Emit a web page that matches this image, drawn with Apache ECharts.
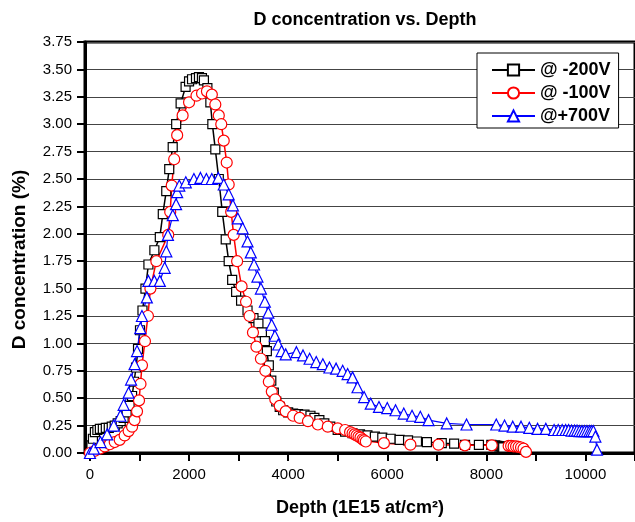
<!DOCTYPE html>
<html>
<head>
<meta charset="utf-8">
<script src="https://cdn.jsdelivr.net/npm/echarts@6/dist/echarts.min.js"></script>
<style>
html,body{margin:0;padding:0;background:#fff;}
#chart{width:635px;height:522px;}
</style>
</head>
<body>
<div id="chart"></div>
<script>
// ---- data ----
const seriesNames = ['@ -200V', '@ -100V', '@+700V'];

const depthM200 = [0, 30, 60, 100, 150, 200, 260, 320, 380, 440, 500, 560, 620, 680, 740, 800, 850, 890, 930, 970, 1010, 1060, 1120, 1180, 1300, 1410, 1470, 1540, 1600, 1670, 1740, 1830, 1930, 2000, 2060, 2140, 2200, 2260, 2300, 2370, 2430, 2470, 2530, 2600, 2670, 2740, 2800, 2870, 2950, 3050, 3180, 3300, 3400, 3470, 3530, 3570, 3610, 3660, 3710, 3760, 3830, 3900, 4000, 4100, 4200, 4330, 4450, 4530, 4630, 4730, 4850, 5000, 5150, 5300, 5450, 5600, 5750, 5900, 6070, 6250, 6420, 6600, 6800, 7100, 7350, 7570, 7850, 8100, 8180, 8220, 8260, 8290, 8320, 8340];
const concM200 = [0, 0.07, 0.13, 0.19, 0.21, 0.22, 0.22, 0.23, 0.23, 0.24, 0.25, 0.27, 0.29, 0.32, 0.37, 0.43, 0.52, 0.65, 0.78, 0.95, 1.12, 1.30, 1.50, 1.72, 1.85, 1.97, 2.18, 2.39, 2.59, 2.79, 3.00, 3.19, 3.34, 3.39, 3.41, 3.42, 3.43, 3.42, 3.40, 3.33, 3.20, 3.00, 2.77, 2.50, 2.20, 1.95, 1.75, 1.58, 1.47, 1.39, 1.30, 1.23, 1.18, 1.10, 1.02, 0.93, 0.80, 0.66, 0.55, 0.47, 0.42, 0.39, 0.37, 0.36, 0.355, 0.35, 0.34, 0.32, 0.30, 0.27, 0.24, 0.21, 0.195, 0.18, 0.17, 0.16, 0.15, 0.14, 0.13, 0.12, 0.115, 0.105, 0.10, 0.09, 0.085, 0.075, 0.075, 0.075, 0.07, 0.065, 0.06, 0.06, 0.055, 0.05];

const depthM100 = [0, 100, 200, 300, 400, 500, 600, 700, 780, 850, 900, 950, 990, 1020, 1050, 1110, 1170, 1220, 1340, 1580, 1620, 1650, 1700, 1760, 1870, 2000, 2150, 2262, 2361, 2460, 2530, 2600, 2650, 2700, 2760, 2800, 2850, 2900, 2970, 3060, 3150, 3220, 3290, 3360, 3450, 3540, 3610, 3670, 3740, 3830, 3950, 4100, 4233, 4400, 4600, 4800, 5000, 5150, 5250, 5300, 5340, 5380, 5420, 5460, 5500, 5530, 5567, 5933, 6467, 7033, 7567, 8110, 8450, 8500, 8550, 8600, 8650, 8700, 8750, 8800];
const concM100 = [0, 0.02, 0.04, 0.06, 0.08, 0.10, 0.12, 0.16, 0.20, 0.24, 0.30, 0.38, 0.48, 0.63, 0.80, 1.02, 1.25, 1.50, 1.75, 1.99, 2.20, 2.44, 2.68, 2.90, 3.08, 3.20, 3.26, 3.28, 3.30, 3.27, 3.18, 3.08, 3.00, 2.85, 2.65, 2.45, 2.20, 1.99, 1.75, 1.52, 1.38, 1.25, 1.10, 0.97, 0.86, 0.75, 0.65, 0.56, 0.49, 0.43, 0.38, 0.34, 0.32, 0.29, 0.26, 0.24, 0.225, 0.21, 0.19, 0.18, 0.17, 0.16, 0.15, 0.14, 0.125, 0.115, 0.105, 0.09, 0.076, 0.076, 0.07, 0.07, 0.065, 0.065, 0.06, 0.06, 0.055, 0.05, 0.04, 0.01];

const depthP700 = [0, 80, 213, 347, 480, 613, 680, 780, 830, 900, 950, 1016, 1049, 1148, 1180, 1300, 1410, 1508, 1541, 1574, 1672, 1738, 1760, 1803, 1934, 2098, 2230, 2350, 2459, 2590, 2700, 2800, 2885, 2984, 3082, 3180, 3246, 3311, 3380, 3450, 3530, 3600, 3667, 3733, 3800, 3867, 3950, 4167, 4300, 4433, 4567, 4700, 4833, 4967, 5100, 5200, 5300, 5400, 5533, 5667, 5833, 6000, 6167, 6333, 6500, 6667, 6833, 7200, 7600, 8200, 8367, 8533, 8700, 8867, 9033, 9200, 9367, 9450, 9530, 9600, 9660, 9720, 9780, 9830, 9880, 9930, 9980, 10030, 10080, 10120, 10160, 10200, 10233];
const concP700 = [0, 0.04, 0.10, 0.17, 0.25, 0.34, 0.44, 0.55, 0.67, 0.81, 0.93, 1.14, 1.25, 1.42, 1.57, 1.57, 1.57, 1.69, 1.84, 1.99, 2.17, 2.27, 2.38, 2.44, 2.47, 2.50, 2.51, 2.50, 2.50, 2.51, 2.45, 2.36, 2.26, 2.14, 2.05, 1.93, 1.83, 1.72, 1.61, 1.50, 1.38, 1.28, 1.17, 1.07, 0.99, 0.93, 0.90, 0.92, 0.89, 0.86, 0.83, 0.81, 0.78, 0.77, 0.75, 0.72, 0.69, 0.60, 0.51, 0.45, 0.42, 0.41, 0.39, 0.36, 0.34, 0.33, 0.30, 0.27, 0.26, 0.26, 0.25, 0.24, 0.24, 0.23, 0.22, 0.22, 0.21, 0.21, 0.21, 0.21, 0.21, 0.205, 0.205, 0.205, 0.20, 0.20, 0.20, 0.20, 0.20, 0.20, 0.20, 0.15, 0.03];

const xTickValues = [0, 1000, 2000, 3000, 4000, 5000, 6000, 7000, 8000, 9000, 10000, 11000];
const xLabelValues = [0, 2000, 4000, 6000, 8000, 10000];

const zip = (xs, ys) => xs.map((x, i) => [x, ys[i]]);

const FONT = 'Liberation Sans, Arial, sans-serif';
const chart = echarts.init(document.getElementById('chart'), null, {renderer: 'canvas'});

function lineSeries(name, xs, ys, symbol, size, color, width) {
  return {
    name: name,
    type: 'line',
    data: zip(xs, ys),
    symbol: symbol,
    symbolSize: size,
    showAllSymbol: true,
    clip: false,
    animation: false,
    lineStyle: {color: color, width: width},
    itemStyle: {color: '#fff', borderColor: color, borderWidth: 1.2},
    emphasis: {disabled: true}
  };
}

chart.setOption({
  animation: false,
  backgroundColor: '#fff',
  title: {
    text: 'D concentration vs. Depth',
    left: 360,
    top: 6,
    textAlign: 'center',
    textStyle: {fontFamily: FONT, fontWeight: 'bold', fontSize: 18, color: '#000'}
  },
  legend: {
    orient: 'vertical',
    left: 477,
    top: 53,
    itemWidth: 43,
    itemHeight: 14,
    itemGap: 5,
    padding: [8, 8, 3, 14],
    backgroundColor: '#fff',
    borderColor: '#000',
    borderWidth: 1,
    textStyle: {fontFamily: FONT, fontWeight: 'bold', fontSize: 18, color: '#000'},
    data: seriesNames
  },
  grid: {
    left: 85, top: 42, width: 557, height: 415,
    show: true, borderColor: '#000', borderWidth: 3, backgroundColor: 'transparent'
  },
  xAxis: {
    type: 'value',
    min: -100, max: 11000,
    name: 'Depth (1E15 at/cm²)',
    nameLocation: 'middle',
    nameGap: 46,
    nameTextStyle: {fontFamily: FONT, fontWeight: 'bold', fontSize: 18, color: '#000'},
    axisLine: {onZero: false, lineStyle: {color: '#000', width: 3}},
    axisTick: {show: true, customValues: xTickValues, length: 8, lineStyle: {color: '#000', width: 2}},
    axisLabel: {customValues: xLabelValues, fontFamily: FONT, fontSize: 15, color: '#000', margin: 14, formatter: v => String(v)},
    splitLine: {show: false}
  },
  yAxis: {
    type: 'value',
    min: 0, max: 3.75, interval: 0.25,
    name: 'D concentration (%)',
    nameLocation: 'middle',
    nameGap: 56,
    nameTextStyle: {fontFamily: FONT, fontWeight: 'bold', fontSize: 19, color: '#000', padding: [0, 24, 0, 0]},
    axisLine: {onZero: false, lineStyle: {color: '#000', width: 3}},
    axisTick: {length: 8, lineStyle: {color: '#000', width: 2}},
    axisLabel: {fontFamily: FONT, fontSize: 15, color: '#000', margin: 13, formatter: v => v.toFixed(2)},
    splitLine: {show: true, lineStyle: {color: '#444', width: 1}}
  },
  series: [
    lineSeries(seriesNames[0], depthM200, concM200, 'rect', 9, '#000', 1.5),
    lineSeries(seriesNames[1], depthM100, concM100, 'circle', 11, '#ff0000', 1.5),
    lineSeries(seriesNames[2], depthP700, concP700, 'triangle', 11, '#0000ff', 1.2)
  ]
});
</script>
</body>
</html>
